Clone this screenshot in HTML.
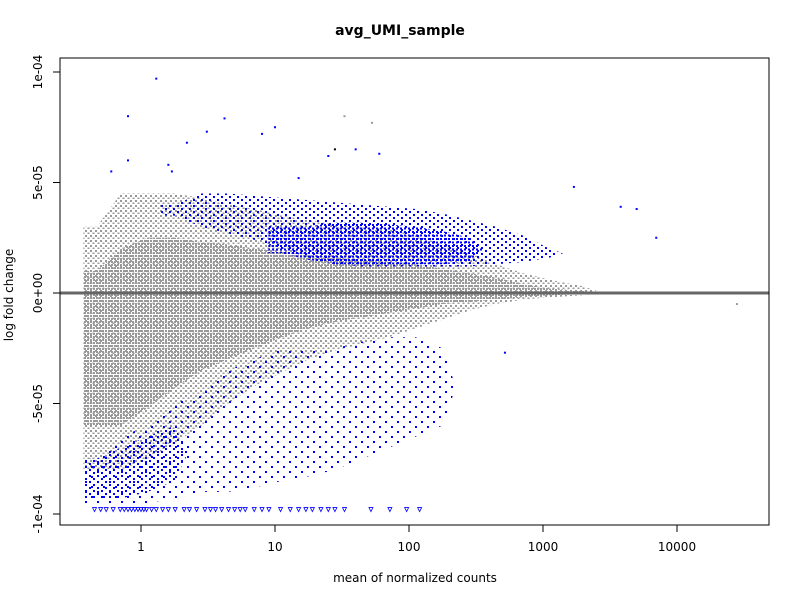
<!DOCTYPE html>
<html><head><meta charset="utf-8"><style>
body{margin:0;background:#fff}
svg{display:block;font-family:"DejaVu Sans","Liberation Sans",sans-serif}
</style></head><body>
<svg id="c" width="800" height="600" xmlns="http://www.w3.org/2000/svg">
<defs>
<pattern id="pg1" width="5" height="5" patternUnits="userSpaceOnUse"><rect x="0" y="0" width="2" height="2" fill="#999"/><rect x="2.5" y="2.5" width="2" height="1.5" fill="#999"/></pattern>
<pattern id="pg2" width="3" height="3" patternUnits="userSpaceOnUse"><rect x="0" y="0" width="2" height="2" fill="#999"/></pattern>
<pattern id="pb1" width="12" height="10" patternUnits="userSpaceOnUse"><rect x="1" y="1" width="2" height="2" fill="#00f"/><rect x="7" y="6" width="2" height="2" fill="#00f"/></pattern>
<pattern id="pb2" width="4" height="3.5" patternUnits="userSpaceOnUse"><rect x="0" y="0" width="2" height="2" fill="#00f"/></pattern>
<pattern id="pb3" width="8" height="6" patternUnits="userSpaceOnUse"><rect x="1" y="1" width="2" height="2" fill="#00f"/><rect x="5" y="4" width="2" height="2" fill="#00f"/></pattern>
</defs>
<text x="400" y="35" text-anchor="middle" font-size="14" font-weight="bold">avg_UMI_sample</text>
<text x="415" y="582" text-anchor="middle" font-size="12">mean of normalized counts</text>
<text transform="translate(13,295) rotate(-90)" text-anchor="middle" font-size="12">log fold change</text>
<g id="marks"></g>
<rect x="60" y="58" width="709" height="467" fill="none" stroke="#000"/>
<g id="axes"></g>
</svg>
<script>
// bins in log10(mean), LFC in units of 1e-5
const binCenters=[-0.33,-0.15,0.05,0.25,0.45,0.65,0.85,1.05,1.25,1.45,1.65,1.85,2.05,2.25,2.45,2.65,2.85,3.05,3.3];
const grayHi=[3,4.5,4.5,4.5,4.3,4,3.8,3.5,3.3,3.1,3,2.9,2.6,2.2,1.8,1.3,0.9,0.6,0.3];
const grayLo=[-8,-8,-7.5,-6.8,-6,-5,-4.2,-3.6,-3,-2.6,-2.3,-2,-1.6,-1.2,-0.8,-0.5,-0.3,-0.2,-0.1];
const coreHi=[1,2,2.5,2.5,2.3,2.2,2,1.9,1.7,1.6,1.5,1.4,1.3,1.1,0.9,0.7,0.4,0.2,0.1];
const coreLo=[-6,-6,-5.2,-4.3,-3.5,-3,-2.5,-2,-1.6,-1.3,-1.1,-0.9,-0.7,-0.5,-0.4,-0.3,-0.2,-0.1,-0.05];
const blueBandHi=[0,0,0,4,4.5,4.5,4.4,4.3,4.2,4.1,4,3.9,3.8,3.6,3.3,3,2.6,2,0];
const blueBandLo=[0,0,0,3.5,3,2.7,2.4,2,1.6,1.3,1.2,1.2,1.2,1.2,1.2,1.3,1.4,1.6,0];
const blueCoreHi=[0,0,0,0,0,0,0,3,3,3.2,3.2,3.1,3,2.8,2.5,0,0,0,0];
const blueCoreLo=[0,0,0,0,0,0,0,1.8,1.5,1.3,1.3,1.3,1.3,1.3,1.4,0,0,0,0];
const blueLowHi=[-7.5,-6.5,-6,-5,-4.5,-3.5,-3,-2.5,-2.5,-2.5,-2.2,-2,-2,-2.5,0,0,0,0,0];
const blueLowLo=[-9.5,-9.5,-9.5,-9.3,-9,-9,-8.8,-8.5,-8.3,-8,-7.5,-7,-6.5,-6,0,0,0,0,0];
const blueLowDenseHi=[-7.5,-7,-6.5,-6,0,0,0,0,0,0,0,0,0,0,0,0,0,0,0];
const blueLowDenseLo=[-9.3,-9.3,-9,-8.5,0,0,0,0,0,0,0,0,0,0,0,0,0,0,0];
// outlier points: mean, lfc(1e-5)
const outMean=[0.8,1.3,0.8,1.6,2.2,3.1,8,10,28,33,40,53,60,3800,1700,5000,7000,520,28000,1.7,0.6,4.2,15,25];
const outLfc=[8,9.7,6,5.8,6.8,7.3,7.2,7.5,6.5,8,6.5,7.7,6.3,3.9,4.8,3.8,2.5,-2.7,-0.5,5.5,5.5,7.9,5.2,6.2];
const outCol=["b","b","b","b","b","b","b","b","k","g","b","g","b","b","b","b","b","b","g","b","b","b","b","b"];
// clipped triangles at bottom (mean)
const triMean=[0.45,0.5,0.55,0.62,0.7,0.75,0.8,0.85,0.9,0.95,1,1.05,1.1,1.2,1.3,1.45,1.6,1.8,2.1,2.3,2.6,3,3.3,3.6,4,4.5,5,5.5,6,7,8,9,11,13,15,17,19,22,25,28,33,52,72,96,120];

const X=v=>141+134*Math.log10(v), XL=l=>141+134*l, Y=l=>293-2.21*l*10;
const g=document.getElementById('marks'), NS="http://www.w3.org/2000/svg";
function area(hi,lo,fill,name){
 const idx=binCenters.map((c,i)=>i).filter(i=>hi[i]>lo[i]);
 if(!idx.length) return;
 const half=0.1;
 let top=[],bot=[];
 idx.forEach((i,k)=>{
  const x=XL(binCenters[i]);
  if(k===0) top.push([XL(binCenters[i]-half),Y(hi[i])]);
  top.push([x,Y(hi[i])]);
  bot.push([x,Y(lo[i])]);
  if(k===idx.length-1){top.push([XL(binCenters[i]+half),Y((hi[i]+lo[i])/2)]);}
 });
 bot.unshift([XL(binCenters[idx[0]]-half),Y(lo[idx[0]])]);
 const pts=top.concat(bot.reverse()).map(p=>p.join(',')).join(' ');
 const p=document.createElementNS(NS,'polygon');
 p.setAttribute('points',pts);p.setAttribute('fill',fill);
 
 
 g.appendChild(p);}
area(grayHi,grayLo,'url(#pg1)','gray-halo-cloud');
area(coreHi,coreLo,'url(#pg2)','gray-core-cloud');
area(blueLowHi,blueLowLo,'url(#pb1)','blue-down-cloud');
area(blueLowDenseHi,blueLowDenseLo,'url(#pb3)','blue-down-core');
area(blueBandHi,blueBandLo,'url(#pb3)','blue-up-cloud');
area(blueCoreHi,blueCoreLo,'url(#pb2)','blue-up-core');
const cm={b:'#00f',g:'#999',k:'#000'};
outMean.forEach((m,i)=>{const r=document.createElementNS(NS,'rect');
 r.setAttribute('x',X(m)-1);r.setAttribute('y',Y(outLfc[i])-1);r.setAttribute('width',2);r.setAttribute('height',2);
 r.setAttribute('fill',cm[outCol[i]]);
 
 
 g.appendChild(r);});
triMean.forEach(m=>{const t=document.createElementNS(NS,'path');const x=X(m),y=Y(-9.8);
 t.setAttribute('d',`M${x-2},${y-2}L${x+2},${y-2}L${x},${y+2}Z`);t.setAttribute('fill','none');t.setAttribute('stroke','#00f');t.setAttribute('stroke-width','0.8');
 
 
 g.appendChild(t);});
const hl=document.createElementNS(NS,'line');
hl.setAttribute('x1',60);hl.setAttribute('x2',769);hl.setAttribute('y1',Y(0));hl.setAttribute('y2',Y(0));hl.setAttribute('stroke','#666');hl.setAttribute('stroke-width','3');


g.appendChild(hl);
// axes
const xTicks=[1,10,100,1000,10000], xLabels=["1","10","100","1000","10000"];
const yTicks=[10,5,0,-5,-10], yLabels=["1e-04","5e-05","0e+00","-5e-05","-1e-04"];
const a=document.getElementById('axes');
xTicks.forEach((v,i)=>{const x=X(v);
 a.insertAdjacentHTML('beforeend',`<line x1="${x}" x2="${x}" y1="525" y2="532" stroke="#000"/><text x="${x}" y="551" text-anchor="middle" font-size="12">${xLabels[i]}</text>`);});
yTicks.forEach((v,i)=>{const y=Y(v);
 a.insertAdjacentHTML('beforeend',`<line x1="53" x2="60" y1="${y}" y2="${y}" stroke="#000"/><text transform="translate(42,${y}) rotate(-90)" text-anchor="middle" font-size="12">${yLabels[i]}</text>`);});
</script>
</body></html>
